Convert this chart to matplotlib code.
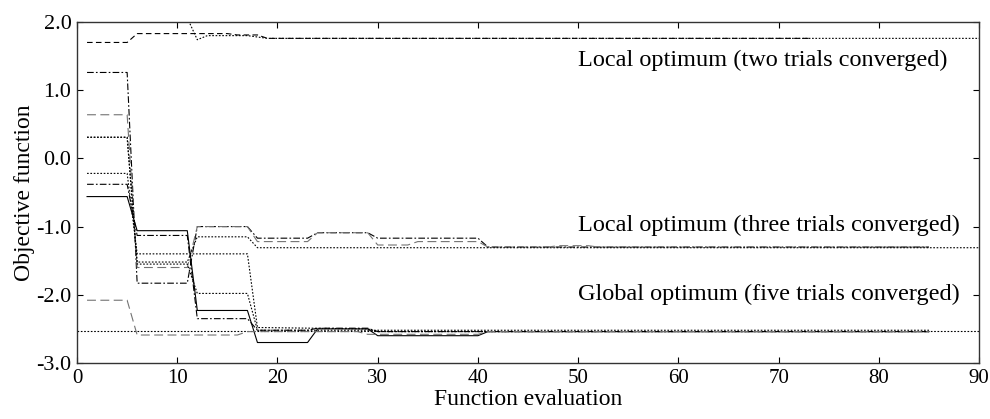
import matplotlib.pyplot as plt

plt.rcParams['font.family'] = ['Liberation Serif', 'DejaVu Serif']

# function evaluation breakpoints and objective value for each trial
a_x = [1, 5, 6, 15, 16, 18, 19, 73]
a_y = [1.70, 1.70, 1.83, 1.83, 1.81, 1.81, 1.76, 1.76]

b_x = [1, 11, 12, 13, 17, 19, 90]
b_y = [2.06, 2.06, 1.74, 1.80, 1.80, 1.76, 1.76]

c_x = [1, 5, 6, 11, 12, 17, 18, 23, 24, 29, 30, 40, 41, 85]
c_y = [1.26, 1.26, -1.83, -1.83, -1.00, -1.00, -1.17, -1.17, -1.09, -1.09,
       -1.17, -1.17, -1.30, -1.30]

d_x = [1, 5, 6, 11, 12, 17, 18, 23, 24, 29, 30, 33, 34, 40, 41, 47, 48, 51, 52, 85]
d_y = [0.64, 0.64, -1.60, -1.60, -1.00, -1.00, -1.22, -1.22, -1.09, -1.09,
       -1.27, -1.27, -1.22, -1.22, -1.30, -1.30, -1.28, -1.28, -1.30, -1.30]

e_x = [1, 5, 6, 11, 12, 17, 18, 90]
e_y = [0.31, 0.31, -1.52, -1.52, -1.15, -1.15, -1.31, -1.31]

f_x = [1, 5, 6, 11, 12, 17, 18, 29, 30, 85]
f_y = [-0.22, -0.22, -1.40, -1.40, -1.40, -1.40, -2.48, -2.50, -2.54, -2.54]

g_x = [1, 5, 6, 11, 12, 17, 18, 23, 24, 29, 30, 85]
g_y = [-0.38, -0.38, -1.13, -1.13, -2.35, -2.35, -2.52, -2.52, -2.49, -2.49,
       -2.54, -2.54]

h_x = [1, 5, 6, 11, 12, 17, 18, 23, 24, 29, 30, 40, 41, 85]
h_y = [-0.56, -0.56, -1.06, -1.06, -2.23, -2.23, -2.70, -2.70, -2.50, -2.50,
       -2.60, -2.60, -2.54, -2.54]

i_x = [1, 5, 6, 16, 17, 28, 29, 40, 41, 85]
i_y = [-2.08, -2.08, -2.59, -2.59, -2.54, -2.54, -2.58, -2.58, -2.54, -2.54]

j_x = [1, 5, 6, 11, 12, 17, 18, 85]
j_y = [0.31, 0.31, -1.55, -1.55, -1.98, -1.98, -2.52, -2.52]

global_opt = -2.53

notes = ['Local optimum (two trials converged)',
         'Local optimum (three trials converged)',
         'Global optimum (five trials converged)']
note_x = [86.8, 88.1, 88.1]
note_y = [1.44, -0.98, -2.0]

trials = [(a_x, a_y), (b_x, b_y), (c_x, c_y), (d_x, d_y), (e_x, e_y),
          (f_x, f_y), (g_x, g_y), (h_x, h_y), (i_x, i_y), (j_x, j_y)]
dot = (0, (1.5, 1.5))
dashdot = (0, (6, 2, 1.5, 2))
styles = [dict(ls=(0, (5, 3)), color='k'),
          dict(ls=dot, color='k'),
          dict(ls=dashdot, color='k'),
          dict(ls=(0, (8, 4)), color='0.45'),
          dict(ls=dot, color='k'),
          dict(ls=dot, color='k'),
          dict(ls=dashdot, color='k'),
          dict(ls='-', color='k'),
          dict(ls=(0, (8, 4)), color='0.45'),
          dict(ls=dot, color='k')]

fig = plt.figure(figsize=(9.9, 4.19), dpi=100)
ax = fig.add_axes([0.0778, 0.1337, 0.9112, 0.8138])

ax.axhline(global_opt, ls=dot, color='k', lw=0.8)
for (x, y), st in zip(trials, styles):
    ax.plot(x, y, lw=0.8, **st)

for txt, xv, yv in zip(notes, note_x, note_y):
    ax.text(xv, yv, txt, ha='right', va='center', fontsize=17.5)

ax.set_xlim(0, 90)
ax.set_ylim(-3, 2)
ax.set_xticks(range(0, 91, 10))
ax.set_yticks([2, 1, 0, -1, -2, -3])
ax.set_yticklabels(['2.0', '1.0', '0.0', '-1.0', '-2.0', '-3.0'])
ax.tick_params(direction='in', top=True, right=True, length=4, width=0.8,
               labelsize=16, pad=4)
ax.tick_params(axis='x', labelsize=15)
for s in ax.spines.values():
    s.set_linewidth(1.0)
    s.set_color('0.2')

ax.set_xlabel('Function evaluation', fontsize=17, labelpad=1)
ax.set_ylabel('Objective function', fontsize=17, labelpad=1)

fig.savefig('out.png', dpi=100)
